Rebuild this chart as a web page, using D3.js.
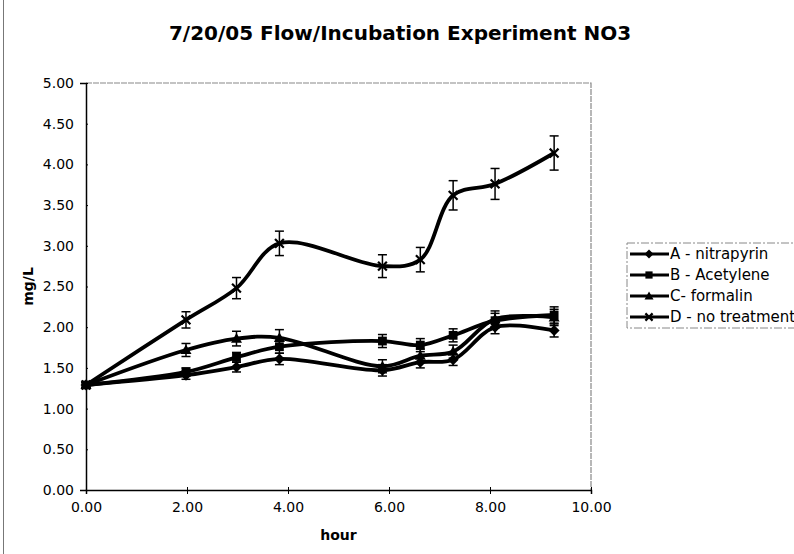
<!DOCTYPE html>
<html>
<head>
<meta charset="utf-8">
<script src="https://cdn.jsdelivr.net/npm/d3@7"></script>
<style>
  body { margin: 0; background: #fff; }
  text { font-family: Verdana, 'DejaVu Sans', sans-serif; }
</style>
</head>
<body>
<div id="chart"></div>
<script>
const hours = [0, 1.98, 2.98, 3.83, 5.87, 6.62, 7.27, 8.1, 9.27];

const seriesNames = ['A - nitrapyrin', 'B - Acetylene', 'C- formalin', 'D - no treatment'];
const markers = ['diamond', 'square', 'triangle', 'cross'];

const valA = [1.29, 1.41, 1.51, 1.61, 1.47, 1.57, 1.60, 2.00, 1.96];
const valB = [1.29, 1.45, 1.63, 1.76, 1.83, 1.78, 1.90, 2.08, 2.15];
const valC = [1.29, 1.72, 1.86, 1.87, 1.52, 1.65, 1.70, 2.10, 2.12];
const valD = [1.29, 2.09, 2.48, 3.03, 2.75, 2.83, 3.62, 3.76, 4.14];

const errA = [0.03, 0.05, 0.06, 0.07, 0.07, 0.07, 0.07, 0.08, 0.08];
const errB = [0.03, 0.05, 0.06, 0.08, 0.08, 0.08, 0.08, 0.09, 0.10];
const errC = [0.03, 0.08, 0.09, 0.10, 0.08, 0.08, 0.08, 0.10, 0.10];
const errD = [0.03, 0.10, 0.13, 0.15, 0.14, 0.15, 0.18, 0.19, 0.21];

const xTicks = [0, 2, 4, 6, 8, 10];
const yTicks = [0, 0.5, 1, 1.5, 2, 2.5, 3, 3.5, 4, 4.5, 5];

const width = 794;
const height = 554;
const margin = {
  top: 83, bottom: 64, right: 203, left: 86,
};

const svg = d3.select('#chart')
  .append('svg')
  .attr('width', width)
  .attr('height', height);

// faint outer chart border on the left
svg.append('line')
  .attr('x1', 3.5).attr('x2', 3.5)
  .attr('y1', 0).attr('y2', height)
  .attr('stroke', '#777')
  .attr('stroke-width', 1);

const x = d3.scaleLinear()
  .domain([0, 10])
  .range([margin.left, width - margin.right]);

const y = d3.scaleLinear()
  .domain([0, 5])
  .range([height - margin.bottom, margin.top]);

// title
svg.append('text')
  .attr('x', 400)
  .attr('y', 40)
  .attr('text-anchor', 'middle')
  .style('font-size', '20px')
  .style('font-weight', 'bold')
  .text('7/20/05 Flow/Incubation Experiment NO3');

// plot frame (top / right)
svg.append('path')
  .attr('d', `M${x(0)},${y(5)}H${x(10)}V${y(0)}`)
  .attr('fill', 'none')
  .attr('stroke', '#888')
  .attr('stroke-width', 1.2)
  .attr('stroke-dasharray', '6,1');

const xAxis = d3.axisBottom(x)
  .tickValues(xTicks)
  .tickSize(4)
  .tickFormat(d3.format('.2f'));

const yAxis = d3.axisLeft(y)
  .tickValues(yTicks)
  .tickSize(6)
  .tickFormat(d3.format('.2f'));

const gx = svg.append('g')
  .attr('transform', `translate(0, ${y(0)})`)
  .call(xAxis);
gx.selectAll('.tick line').attr('y1', -3);
gx.select('.domain').attr('stroke-width', 1.5);
gx.selectAll('text')
  .attr('y', 12)
  .attr('dy', '0.71em')
  .style('font-size', '14px')
  .attr('fill', '#000');

const gy = svg.append('g')
  .attr('transform', `translate(${x(0)}, 0)`)
  .call(yAxis);
gy.select('.domain').attr('stroke-width', 1.5);
gy.selectAll('.tick line').attr('x2', 2);
gy.selectAll('text')
  .attr('x', -12)
  .style('font-size', '14px')
  .attr('fill', '#000');

// axis titles
svg.append('text')
  .attr('x', (x(0) + x(10)) / 2)
  .attr('y', 540)
  .attr('text-anchor', 'middle')
  .style('font-size', '14px')
  .style('font-weight', 'bold')
  .text('hour');

svg.append('text')
  .attr('transform', `translate(33, ${(y(0) + y(5)) / 2}) rotate(-90)`)
  .attr('text-anchor', 'middle')
  .style('font-size', '14px')
  .style('font-weight', 'bold')
  .text('mg/L');

const series = [valA, valB, valC, valD].map((vals, i) => ({
  name: seriesNames[i],
  marker: markers[i],
  points: vals.map((v, j) => ({ h: hours[j], v, e: [errA, errB, errC, errD][i][j] })),
}));

function drawMarker(g, type, size) {
  const s = size;
  if (type === 'diamond') {
    g.append('path')
      .attr('d', `M0,${-s}L${s},0L0,${s}L${-s},0Z`)
      .attr('fill', '#000');
  } else if (type === 'square') {
    g.append('rect')
      .attr('x', -s * 0.8).attr('y', -s * 0.8)
      .attr('width', s * 1.6).attr('height', s * 1.6)
      .attr('fill', '#000');
  } else if (type === 'triangle') {
    g.append('path')
      .attr('d', `M0,${-s}L${s},${s * 0.75}L${-s},${s * 0.75}Z`)
      .attr('fill', '#000');
  } else {
    g.append('path')
      .attr('d', `M${-s * 0.8},${-s * 0.8}L${s * 0.8},${s * 0.8}M${s * 0.8},${-s * 0.8}L${-s * 0.8},${s * 0.8}`)
      .attr('stroke', '#000')
      .attr('stroke-width', 2.2);
  }
}

const line = d3.line()
  .x((d) => x(d.h))
  .y((d) => y(d.v))
  .curve(d3.curveCatmullRom.alpha(0.5));

const plot = svg.append('g');

series.forEach((s) => {
  // error bars
  const eb = plot.append('g')
    .selectAll('g')
    .data(s.points)
    .join('g')
    .attr('stroke', '#000')
    .attr('stroke-width', 1.5);
  eb.append('line')
    .attr('x1', (d) => x(d.h)).attr('x2', (d) => x(d.h))
    .attr('y1', (d) => y(d.v + d.e)).attr('y2', (d) => y(d.v - d.e));
  eb.append('line')
    .attr('x1', (d) => x(d.h) - 4.5).attr('x2', (d) => x(d.h) + 4.5)
    .attr('y1', (d) => y(d.v + d.e)).attr('y2', (d) => y(d.v + d.e));
  eb.append('line')
    .attr('x1', (d) => x(d.h) - 4.5).attr('x2', (d) => x(d.h) + 4.5)
    .attr('y1', (d) => y(d.v - d.e)).attr('y2', (d) => y(d.v - d.e));

  plot.append('path')
    .datum(s.points)
    .attr('d', line)
    .attr('fill', 'none')
    .attr('stroke', '#000')
    .attr('stroke-width', 3.8)
    .attr('stroke-linejoin', 'round');

  plot.append('g')
    .selectAll('g')
    .data(s.points)
    .join('g')
    .attr('transform', (d) => `translate(${x(d.h)}, ${y(d.v)})`)
    .each(function () { drawMarker(d3.select(this), s.marker, 5.5); });
});

// legend
const legend = svg.append('g')
  .attr('transform', 'translate(627, 243)');

legend.append('rect')
  .attr('x', 0).attr('y', 0)
  .attr('width', 175).attr('height', 85)
  .attr('fill', 'none')
  .attr('stroke', '#888')
  .attr('stroke-width', 1)
  .attr('stroke-dasharray', '8,2,2,2');

const rows = legend.selectAll('g.row')
  .data(series)
  .join('g')
  .attr('class', 'row')
  .attr('transform', (d, i) => `translate(0, ${11 + i * 21})`);

rows.append('line')
  .attr('x1', 3).attr('x2', 42)
  .attr('y1', 0).attr('y2', 0)
  .attr('stroke', '#000')
  .attr('stroke-width', 3);

rows.each(function (d) {
  const g = d3.select(this).append('g').attr('transform', 'translate(22, 0)');
  drawMarker(g, d.marker, 4.5);
});

rows.append('text')
  .attr('x', 43)
  .attr('y', 0)
  .attr('dy', '0.35em')
  .style('font-size', '15px')
  .text((d) => d.name);
</script>
</body>
</html>
